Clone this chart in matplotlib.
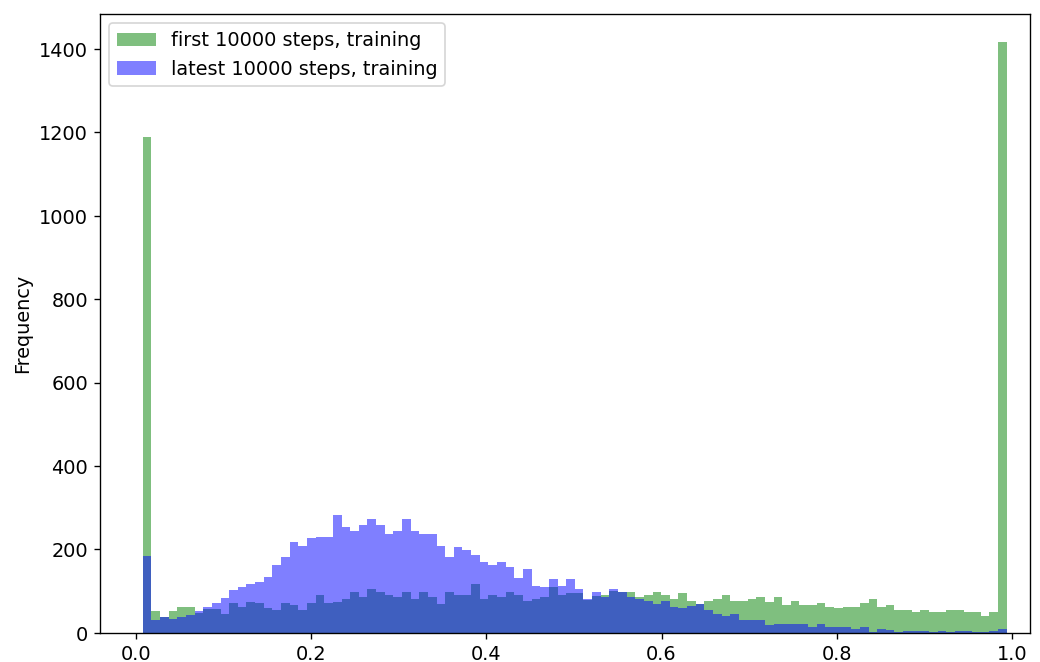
import matplotlib.pyplot as plt
import numpy as np

# histogram counts per bin (100 bins over the score range)
bin_lo = 0.008
bin_hi = 0.994

first_counts = [
    1190, 53, 37, 53, 63, 63, 47, 57, 57, 45,
    71, 63, 75, 71, 59, 55, 71, 67, 55, 71,
    90, 71, 75, 82, 99, 86, 105, 99, 91, 86,
    99, 82, 99, 86, 69, 99, 91, 91, 117, 82,
    91, 87, 99, 91, 77, 82, 87, 109, 91, 95,
    95, 80, 89, 91, 101, 97, 99, 86, 91, 99,
    91, 82, 95, 77, 70, 77, 82, 91, 77, 77,
    82, 86, 75, 86, 68, 76, 68, 68, 72, 63,
    59, 63, 63, 72, 82, 63, 68, 54, 54, 50,
    54, 50, 50, 54, 54, 50, 50, 41, 50, 1418,
]

latest_counts = [
    185, 30, 37, 33, 38, 42, 53, 63, 71, 83,
    103, 111, 117, 123, 135, 163, 181, 217, 209, 227,
    231, 231, 282, 255, 245, 259, 273, 259, 237, 245,
    273, 245, 237, 237, 209, 181, 205, 199, 186, 169,
    163, 169, 159, 131, 153, 113, 109, 130, 113, 130,
    105, 82, 99, 87, 105, 99, 86, 82, 77, 69,
    77, 63, 59, 65, 69, 55, 45, 40, 45, 31,
    31, 31, 18, 22, 22, 22, 22, 14, 22, 14,
    14, 14, 9, 14, 3, 10, 8, 2, 4, 4,
    4, 2, 4, 2, 4, 4, 2, 2, 4, 9,
]

labels = ["first 10000 steps, training", "latest 10000 steps, training"]

plt.rcParams["font.size"] = 11.3

edges = np.linspace(bin_lo, bin_hi, len(first_counts) + 1)
centers = (edges[:-1] + edges[1:]) / 2

fig = plt.figure(figsize=(8.5, 5.41), dpi=122.4)
ax = fig.add_axes([0.096, 0.044, 0.894, 0.935])

ax.hist(centers, bins=edges, weights=first_counts, color="green", alpha=0.5, label=labels[0])
ax.hist(centers, bins=edges, weights=latest_counts, color="blue", alpha=0.5, label=labels[1])

ax.set_xlim(-0.041, 1.0205)
ax.set_ylim(0, max(first_counts) * 1.047)
ax.set_ylabel("Frequency")
ax.legend(loc="upper left")

fig.savefig("out.png", dpi=122.4)
